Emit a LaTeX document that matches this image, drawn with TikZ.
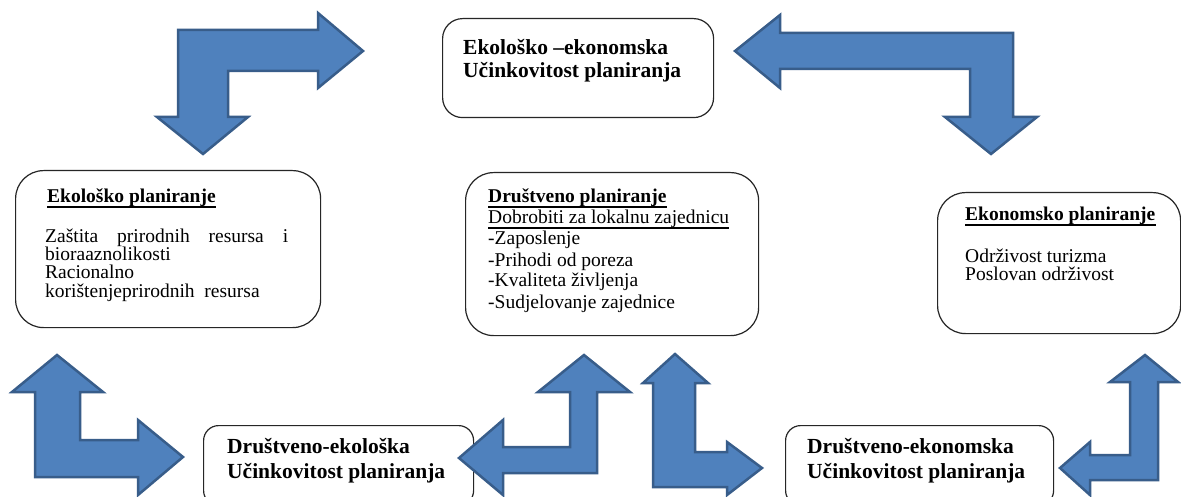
\documentclass[tikz,border=0pt]{standalone}
\usepackage{fontspec}
\setmainfont{Liberation Serif}
\definecolor{arrfill}{HTML}{4F81BD}
\definecolor{arrline}{HTML}{385D8A}
\begin{document}
\begin{tikzpicture}[x=1pt,y=-1pt,
  box/.style={draw=black!85, line width=1.2pt, rounded corners=#1, anchor=north west, inner sep=0pt},
  box/.default=20pt,
  blk/.style={fill=arrfill, draw=arrline, line width=2.5pt, line join=miter},
  ttl/.style={anchor=base west, inner sep=0pt, font=\fontsize{21.5}{24}\selectfont\bfseries},
  hd/.style={anchor=base west, inner sep=0pt, font=\fontsize{19.5}{22}\selectfont\bfseries},
  txt/.style={anchor=base west, inner sep=0pt, font=\fontsize{19.5}{22}\selectfont},
  ul/.style={line width=1.1pt, black}
]
\fill[white] (0,0) rectangle (1181,497);
\clip (0,0) rectangle (1181,497);

% boxes
\node[box=20pt, minimum width=271pt, minimum height=99pt] (top) at (442,18) {};
\node[box=28pt, minimum width=305pt, minimum height=157pt] (eko) at (15,170) {};
\node[box=28pt, minimum width=293pt, minimum height=163pt] (dru) at (465,172) {};
\node[box=28pt, minimum width=243pt, minimum height=141pt] (ekon) at (937,192) {};
\node[box=15pt, minimum width=270pt, minimum height=80pt] (de) at (203,425) {};
\node[box=15pt, minimum width=268pt, minimum height=80pt] (dk) at (785,425) {};

% top box text
\node[ttl] (top1) at (463,55) {Ekološko –ekonomska};
\node[ttl] (top2) at (463,78) {Učinkovitost planiranja};

% left box text
\node[hd] (ekoh) at (47,203) {Ekološko planiranje};
\draw[ul] ([yshift=-4pt]ekoh.base west) -- ([yshift=-4pt]ekoh.base east);
\node[txt] (eko1) at (45,243) {\hbox to 243pt{Zaštita\hfill prirodnih\hfill resursa\hfill i}};
\node[txt] (eko2) at (45,261) {bioraaznolikosti};
\node[txt] (eko3) at (45,279) {Racionalno};
\node[txt] (eko4) at (45,297) {korištenjeprirodnih\ \ resursa};

% center box text
\node[hd] (druh) at (488,203) {Društveno planiranje};
\draw[ul] ([yshift=-4pt]druh.base west) -- ([yshift=-4pt]druh.base east);
\node[txt] (dru1) at (488,224) {Dobrobiti za lokalnu zajednicu};
\draw[ul] ([yshift=-4pt]dru1.base west) -- ([yshift=-4pt]dru1.base east);
\node[txt] (dru2) at (488,245) {-Zaposlenje};
\node[txt] (dru3) at (488,266) {-Prihodi od poreza};
\node[txt] (dru4) at (488,287) {-Kvaliteta življenja};
\node[txt] (dru5) at (488,308) {-Sudjelovanje zajednice};

% right box text
\node[hd] (ekonh) at (965,221) {Ekonomsko planiranje};
\draw[ul] ([yshift=-4pt]ekonh.base west) -- ([yshift=-4pt]ekonh.base east);
\node[txt] (ekon1) at (965,262) {Održivost turizma};
\node[txt] (ekon2) at (965,280) {Poslovan održivost};

% bottom boxes text
\node[ttl] (de1) at (227,453) {Društveno-ekološka};
\node[ttl] (de2) at (227,478) {Učinkovitost planiranja};
\node[ttl] (dk1) at (807,453) {Društveno-ekonomska};
\node[ttl] (dk2) at (807,478) {Učinkovitost planiranja};

% block arrows
\draw[blk] (178,117) -- (178,30) -- (318,30) -- (318,13) -- (363,51) -- (318,88) -- (318,71) -- (228,71) -- (228,117) -- (248,117) -- (203,154) -- (157,117) -- cycle;
\draw[blk] (735,51) -- (780,15) -- (780,33) -- (1013,33) -- (1013,117) -- (1037,117) -- (991,154) -- (945,117) -- (970,117) -- (970,69) -- (780,69) -- (780,88) -- cycle;
\draw[blk] (57,355) -- (103,392) -- (80,392) -- (80,440) -- (138,440) -- (138,420) -- (183,457) -- (138,495) -- (138,477) -- (35,477) -- (35,392) -- (12,392) -- cycle;
\draw[blk] (584,355) -- (630,392) -- (597,392) -- (597,473) -- (503,473) -- (503,495) -- (459,458) -- (503,420) -- (503,447) -- (570,447) -- (570,392) -- (538,392) -- cycle;
\draw[blk] (675,354) -- (708,383) -- (695,383) -- (695,452) -- (727,452) -- (727,442) -- (762,468) -- (727,495) -- (727,487) -- (653,487) -- (653,383) -- (643,383) -- cycle;
\draw[blk] (1145,355) -- (1178,382) -- (1158,382) -- (1158,480) -- (1090,480) -- (1090,495) -- (1060,468) -- (1090,442) -- (1090,455) -- (1130,455) -- (1130,382) -- (1110,382) -- cycle;
\end{tikzpicture}
\end{document}
